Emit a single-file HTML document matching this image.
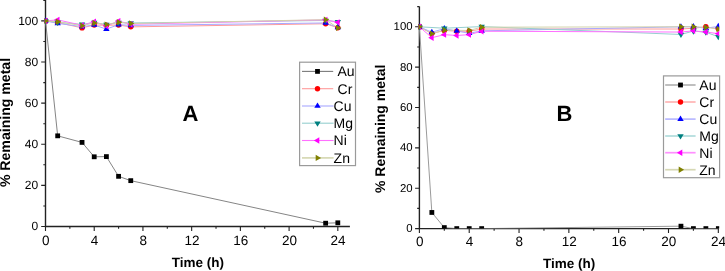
<!DOCTYPE html>
<html><head><meta charset="utf-8"><style>
html,body{margin:0;padding:0;background:#fff;overflow:hidden}
svg{display:block;will-change:transform}
text{font-family:"Liberation Sans",sans-serif;fill:#000;text-rendering:geometricPrecision}
</style></head><body>
<svg width="725" height="271" viewBox="0 0 725 271">
<rect width="725" height="271" fill="#fff"/>
<path d="M45.5 0V226.5H349.9" fill="none" stroke="#222222" stroke-width="1.4"/>
<path d="M45.5 226.5h-4.3M45.5 205.94h-2.2M45.5 185.38h-4.3M45.5 164.82h-2.2M45.5 144.26h-4.3M45.5 123.7h-2.2M45.5 103.14h-4.3M45.5 82.58h-2.2M45.5 62.02h-4.3M45.5 41.46h-2.2M45.5 20.9h-4.3M45.5 0.34h-2.2M45.5 226.5v4.5M69.86 226.5v2.2M94.22 226.5v4.5M118.58 226.5v2.2M142.94 226.5v4.5M167.3 226.5v2.2M191.66 226.5v4.5M216.02 226.5v2.2M240.38 226.5v4.5M264.74 226.5v2.2M289.1 226.5v4.5M313.46 226.5v2.2M337.82 226.5v4.5" stroke="#222222" stroke-width="1.1" fill="none"/>
<clipPath id="ca"><rect x="44.6" y="0" width="315.4" height="226.5"/></clipPath>
<g clip-path="url(#ca)">
<polyline fill="none" stroke="#858585" stroke-width="1" points="45.5,20.9 57.68,135.83 82.04,142.41 94.22,156.8 106.4,156.6 118.58,176.33 130.76,180.65 325.64,223.21 337.82,222.8"/>
<polyline fill="none" stroke="#ff9a9a" stroke-width="1" points="45.5,20.9 57.68,22.54 82.04,27.89 94.22,25.01 106.4,25.22 118.58,25.01 130.76,26.86 325.64,23.78 337.82,27.68"/>
<polyline fill="none" stroke="#a8a8ff" stroke-width="1" points="45.5,20.9 57.68,23.37 82.04,26.66 94.22,25.01 106.4,29.12 118.58,24.6 130.76,25.42 325.64,22.96 337.82,27.48"/>
<polyline fill="none" stroke="#96cfcf" stroke-width="1" points="45.5,20.9 57.68,22.34 82.04,24.4 94.22,22.54 106.4,24.6 118.58,22.54 130.76,22.96 325.64,20.49 337.82,21.72"/>
<polyline fill="none" stroke="#ff70ff" stroke-width="1" points="45.5,20.9 57.68,19.87 82.04,25.22 94.22,21.72 106.4,26.04 118.58,21.11 130.76,24.19 325.64,19.87 337.82,22.34"/>
<polyline fill="none" stroke="#d2d2aa" stroke-width="1" points="45.5,20.9 57.68,21.72 82.04,25.63 94.22,22.96 106.4,24.6 118.58,22.13 130.76,23.57 325.64,19.67 337.82,27.89"/>
<rect x="43.1" y="18.5" width="4.8" height="4.8" fill="#000000"/>
<rect x="55.28" y="133.43" width="4.8" height="4.8" fill="#000000"/>
<rect x="79.64" y="140.01" width="4.8" height="4.8" fill="#000000"/>
<rect x="91.82" y="154.4" width="4.8" height="4.8" fill="#000000"/>
<rect x="104" y="154.2" width="4.8" height="4.8" fill="#000000"/>
<rect x="116.18" y="173.93" width="4.8" height="4.8" fill="#000000"/>
<rect x="128.36" y="178.25" width="4.8" height="4.8" fill="#000000"/>
<rect x="323.24" y="220.81" width="4.8" height="4.8" fill="#000000"/>
<rect x="335.42" y="220.4" width="4.8" height="4.8" fill="#000000"/>
<circle cx="45.5" cy="20.9" r="2.7" fill="#ff0000"/>
<circle cx="57.68" cy="22.54" r="2.7" fill="#ff0000"/>
<circle cx="82.04" cy="27.89" r="2.7" fill="#ff0000"/>
<circle cx="94.22" cy="25.01" r="2.7" fill="#ff0000"/>
<circle cx="106.4" cy="25.22" r="2.7" fill="#ff0000"/>
<circle cx="118.58" cy="25.01" r="2.7" fill="#ff0000"/>
<circle cx="130.76" cy="26.86" r="2.7" fill="#ff0000"/>
<circle cx="325.64" cy="23.78" r="2.7" fill="#ff0000"/>
<circle cx="337.82" cy="27.68" r="2.7" fill="#ff0000"/>
<polygon points="42.3,22.7 48.7,22.7 45.5,17.3" fill="#0000ff"/>
<polygon points="54.48,25.17 60.88,25.17 57.68,19.77" fill="#0000ff"/>
<polygon points="78.84,28.46 85.24,28.46 82.04,23.06" fill="#0000ff"/>
<polygon points="91.02,26.81 97.42,26.81 94.22,21.41" fill="#0000ff"/>
<polygon points="103.2,30.92 109.6,30.92 106.4,25.52" fill="#0000ff"/>
<polygon points="115.38,26.4 121.78,26.4 118.58,21" fill="#0000ff"/>
<polygon points="127.56,27.22 133.96,27.22 130.76,21.82" fill="#0000ff"/>
<polygon points="322.44,24.76 328.84,24.76 325.64,19.36" fill="#0000ff"/>
<polygon points="334.62,29.28 341.02,29.28 337.82,23.88" fill="#0000ff"/>
<polygon points="42.3,19.1 48.7,19.1 45.5,24.5" fill="#008080"/>
<polygon points="54.48,20.54 60.88,20.54 57.68,25.94" fill="#008080"/>
<polygon points="78.84,22.6 85.24,22.6 82.04,28" fill="#008080"/>
<polygon points="91.02,20.74 97.42,20.74 94.22,26.14" fill="#008080"/>
<polygon points="103.2,22.8 109.6,22.8 106.4,28.2" fill="#008080"/>
<polygon points="115.38,20.74 121.78,20.74 118.58,26.14" fill="#008080"/>
<polygon points="127.56,21.16 133.96,21.16 130.76,26.56" fill="#008080"/>
<polygon points="322.44,18.69 328.84,18.69 325.64,24.09" fill="#008080"/>
<polygon points="334.62,19.92 341.02,19.92 337.82,25.32" fill="#008080"/>
<polygon points="47.3,17.7 47.3,24.1 41.9,20.9" fill="#ff00ff"/>
<polygon points="59.48,16.67 59.48,23.07 54.08,19.87" fill="#ff00ff"/>
<polygon points="83.84,22.02 83.84,28.42 78.44,25.22" fill="#ff00ff"/>
<polygon points="96.02,18.52 96.02,24.92 90.62,21.72" fill="#ff00ff"/>
<polygon points="108.2,22.84 108.2,29.24 102.8,26.04" fill="#ff00ff"/>
<polygon points="120.38,17.91 120.38,24.31 114.98,21.11" fill="#ff00ff"/>
<polygon points="132.56,20.99 132.56,27.39 127.16,24.19" fill="#ff00ff"/>
<polygon points="327.44,16.67 327.44,23.07 322.04,19.87" fill="#ff00ff"/>
<polygon points="339.62,19.14 339.62,25.54 334.22,22.34" fill="#ff00ff"/>
<polygon points="43.7,17.7 43.7,24.1 49.1,20.9" fill="#808000"/>
<polygon points="55.88,18.52 55.88,24.92 61.28,21.72" fill="#808000"/>
<polygon points="80.24,22.43 80.24,28.83 85.64,25.63" fill="#808000"/>
<polygon points="92.42,19.76 92.42,26.16 97.82,22.96" fill="#808000"/>
<polygon points="104.6,21.4 104.6,27.8 110,24.6" fill="#808000"/>
<polygon points="116.78,18.93 116.78,25.33 122.18,22.13" fill="#808000"/>
<polygon points="128.96,20.37 128.96,26.77 134.36,23.57" fill="#808000"/>
<polygon points="323.84,16.47 323.84,22.87 329.24,19.67" fill="#808000"/>
<polygon points="336.02,24.69 336.02,31.09 341.42,27.89" fill="#808000"/>
</g>
<text x="38.2" y="230.3" font-size="12" text-anchor="end">0</text>
<text x="38.2" y="189.18" font-size="12" text-anchor="end">20</text>
<text x="38.2" y="148.06" font-size="12" text-anchor="end">40</text>
<text x="38.2" y="106.94" font-size="12" text-anchor="end">60</text>
<text x="38.2" y="65.82" font-size="12" text-anchor="end">80</text>
<text x="38.2" y="24.7" font-size="12" text-anchor="end">100</text>
<text x="45.8" y="244.6" font-size="13.5" text-anchor="middle">0</text>
<text x="94.52" y="244.6" font-size="13.5" text-anchor="middle">4</text>
<text x="143.24" y="244.6" font-size="13.5" text-anchor="middle">8</text>
<text x="191.96" y="244.6" font-size="13.5" text-anchor="middle">12</text>
<text x="240.68" y="244.6" font-size="13.5" text-anchor="middle">16</text>
<text x="289.4" y="244.6" font-size="13.5" text-anchor="middle">20</text>
<text x="338.12" y="244.6" font-size="13.5" text-anchor="middle">24</text>
<text x="197.8" y="267" font-size="13.5" font-weight="bold" text-anchor="middle">Time (h)</text>
<text transform="translate(10.4,122.5) rotate(-90)" font-size="14.1" font-weight="bold" text-anchor="middle">% Remaining metal</text>
<text x="190.4" y="120.9" font-size="22" font-weight="bold" text-anchor="middle">A</text>
<rect x="299.6" y="62.2" width="55.9" height="103.4" fill="#fff" stroke="#9a9a9a" stroke-width="1.2"/>
<path d="M302 71.4H333.2" stroke="#7a7a7a" stroke-width="1.1"/>
<rect x="315.1" y="69" width="4.8" height="4.8" fill="#000000"/>
<text x="337.4" y="76.3" font-size="14">Au</text>
<path d="M302 88.7H333.2" stroke="#ff9a9a" stroke-width="1.1"/>
<circle cx="317.5" cy="88.7" r="2.7" fill="#ff0000"/>
<text x="337.6" y="93.6" font-size="14">Cr</text>
<path d="M302 106H333.6" stroke="#a8a8ff" stroke-width="1.1"/>
<polygon points="314.3,107.8 320.7,107.8 317.5,102.4" fill="#0000ff"/>
<text x="333.6" y="110.9" font-size="14">Cu</text>
<path d="M302 123.2H333.6" stroke="#96cfcf" stroke-width="1.1"/>
<polygon points="314.3,121.4 320.7,121.4 317.5,126.8" fill="#008080"/>
<text x="333.6" y="128.1" font-size="14">Mg</text>
<path d="M302 140.5H333.6" stroke="#ff70ff" stroke-width="1.1"/>
<polygon points="319.3,137.3 319.3,143.7 313.9,140.5" fill="#ff00ff"/>
<text x="333.6" y="145.4" font-size="14">Ni</text>
<path d="M302 157.9H333.6" stroke="#d6d8b4" stroke-width="1.7"/>
<polygon points="315.7,154.7 315.7,161.1 321.1,157.9" fill="#808000"/>
<text x="333.6" y="162.8" font-size="14">Zn</text>
<path d="M419.4 6.4V228.6H718.6" fill="none" stroke="#222222" stroke-width="1.4"/>
<path d="M419.4 228.6h-4.3M419.4 208.42h-2.2M419.4 188.24h-4.3M419.4 168.06h-2.2M419.4 147.88h-4.3M419.4 127.7h-2.2M419.4 107.52h-4.3M419.4 87.34h-2.2M419.4 67.16h-4.3M419.4 46.98h-2.2M419.4 26.8h-4.3M419.4 6.62h-2.2M419.4 228.6v4.5M444.31 228.6v2.2M469.22 228.6v4.5M494.13 228.6v2.2M519.04 228.6v4.5M543.95 228.6v2.2M568.86 228.6v4.5M593.77 228.6v2.2M618.68 228.6v4.5M643.59 228.6v2.2M668.5 228.6v4.5M693.41 228.6v2.2M718.32 228.6v4.5" stroke="#222222" stroke-width="1.1" fill="none"/>
<clipPath id="cb"><rect x="418.5" y="0" width="300.7" height="228.6"/></clipPath>
<g clip-path="url(#cb)">
<polyline fill="none" stroke="#9a9a9a" stroke-width="1" points="419.4,26.8 431.85,212.46 444.31,227.59 456.76,228.6 469.22,228.6 481.67,228.6 680.95,226.18 693.41,228.6 705.87,228.6 718.32,228.6"/>
<polyline fill="none" stroke="#ff9a9a" stroke-width="1" points="419.4,26.8 431.85,33.46 444.31,30.43 456.76,31.24 469.22,31.24 481.67,29.02 680.95,29.02 693.41,28.21 705.87,26.8 718.32,28.82"/>
<polyline fill="none" stroke="#a8a8ff" stroke-width="1" points="419.4,26.8 431.85,32.25 444.31,28.62 456.76,31.04 469.22,33.26 481.67,30.84 680.95,26.8 693.41,26.6 705.87,28.21 718.32,26.4"/>
<polyline fill="none" stroke="#96cfcf" stroke-width="1" points="419.4,26.8 444.31,28.21 481.67,26.6 680.95,34.47 693.41,31.04 705.87,32.25 718.32,36.69"/>
<polyline fill="none" stroke="#ff70ff" stroke-width="1" points="419.4,26.8 431.85,37.7 444.31,34.67 456.76,35.48 469.22,34.67 481.67,31.24 680.95,32.05 693.41,30.84 705.87,32.05 718.32,33.66"/>
<polyline fill="none" stroke="#d2d2aa" stroke-width="1" points="419.4,26.8 431.85,33.66 444.31,30.23 469.22,30.43 481.67,27.2 680.95,26.8 693.41,26.8 705.87,27.41 718.32,29.02"/>
<rect x="417" y="24.4" width="4.8" height="4.8" fill="#000000"/>
<rect x="429.45" y="210.06" width="4.8" height="4.8" fill="#000000"/>
<rect x="441.91" y="225.19" width="4.8" height="4.8" fill="#000000"/>
<rect x="454.37" y="226.2" width="4.8" height="4.8" fill="#000000"/>
<rect x="466.82" y="226.2" width="4.8" height="4.8" fill="#000000"/>
<rect x="479.27" y="226.2" width="4.8" height="4.8" fill="#000000"/>
<rect x="678.55" y="223.78" width="4.8" height="4.8" fill="#000000"/>
<rect x="691.01" y="226.2" width="4.8" height="4.8" fill="#000000"/>
<rect x="703.47" y="226.2" width="4.8" height="4.8" fill="#000000"/>
<rect x="715.92" y="226.2" width="4.8" height="4.8" fill="#000000"/>
<circle cx="419.4" cy="26.8" r="2.7" fill="#ff0000"/>
<circle cx="431.85" cy="33.46" r="2.7" fill="#ff0000"/>
<circle cx="444.31" cy="30.43" r="2.7" fill="#ff0000"/>
<circle cx="456.76" cy="31.24" r="2.7" fill="#ff0000"/>
<circle cx="469.22" cy="31.24" r="2.7" fill="#ff0000"/>
<circle cx="481.67" cy="29.02" r="2.7" fill="#ff0000"/>
<circle cx="680.95" cy="29.02" r="2.7" fill="#ff0000"/>
<circle cx="693.41" cy="28.21" r="2.7" fill="#ff0000"/>
<circle cx="705.87" cy="26.8" r="2.7" fill="#ff0000"/>
<circle cx="718.32" cy="28.82" r="2.7" fill="#ff0000"/>
<polygon points="416.2,28.6 422.6,28.6 419.4,23.2" fill="#0000ff"/>
<polygon points="428.65,34.05 435.05,34.05 431.85,28.65" fill="#0000ff"/>
<polygon points="441.11,30.42 447.51,30.42 444.31,25.02" fill="#0000ff"/>
<polygon points="453.56,32.84 459.96,32.84 456.76,27.44" fill="#0000ff"/>
<polygon points="466.02,35.06 472.42,35.06 469.22,29.66" fill="#0000ff"/>
<polygon points="478.47,32.64 484.87,32.64 481.67,27.24" fill="#0000ff"/>
<polygon points="677.75,28.6 684.15,28.6 680.95,23.2" fill="#0000ff"/>
<polygon points="690.21,28.4 696.61,28.4 693.41,23" fill="#0000ff"/>
<polygon points="702.66,30.01 709.07,30.01 705.87,24.61" fill="#0000ff"/>
<polygon points="715.12,28.2 721.52,28.2 718.32,22.8" fill="#0000ff"/>
<polygon points="416.2,25 422.6,25 419.4,30.4" fill="#008080"/>
<polygon points="441.11,26.41 447.51,26.41 444.31,31.81" fill="#008080"/>
<polygon points="478.47,24.8 484.87,24.8 481.67,30.2" fill="#008080"/>
<polygon points="677.75,32.67 684.15,32.67 680.95,38.07" fill="#008080"/>
<polygon points="690.21,29.24 696.61,29.24 693.41,34.64" fill="#008080"/>
<polygon points="702.66,30.45 709.07,30.45 705.87,35.85" fill="#008080"/>
<polygon points="715.12,34.89 721.52,34.89 718.32,40.29" fill="#008080"/>
<polygon points="421.2,23.6 421.2,30 415.8,26.8" fill="#ff00ff"/>
<polygon points="433.65,34.5 433.65,40.9 428.25,37.7" fill="#ff00ff"/>
<polygon points="446.11,31.47 446.11,37.87 440.71,34.67" fill="#ff00ff"/>
<polygon points="458.56,32.28 458.56,38.68 453.16,35.48" fill="#ff00ff"/>
<polygon points="471.02,31.47 471.02,37.87 465.62,34.67" fill="#ff00ff"/>
<polygon points="483.47,28.04 483.47,34.44 478.07,31.24" fill="#ff00ff"/>
<polygon points="682.75,28.85 682.75,35.25 677.35,32.05" fill="#ff00ff"/>
<polygon points="695.21,27.64 695.21,34.04 689.81,30.84" fill="#ff00ff"/>
<polygon points="707.66,28.85 707.66,35.25 702.26,32.05" fill="#ff00ff"/>
<polygon points="720.12,30.46 720.12,36.86 714.72,33.66" fill="#ff00ff"/>
<polygon points="417.6,23.6 417.6,30 423,26.8" fill="#808000"/>
<polygon points="430.05,30.46 430.05,36.86 435.45,33.66" fill="#808000"/>
<polygon points="442.51,27.03 442.51,33.43 447.91,30.23" fill="#808000"/>
<polygon points="467.42,27.23 467.42,33.63 472.82,30.43" fill="#808000"/>
<polygon points="479.87,24 479.87,30.4 485.27,27.2" fill="#808000"/>
<polygon points="679.15,23.6 679.15,30 684.55,26.8" fill="#808000"/>
<polygon points="691.61,23.6 691.61,30 697.01,26.8" fill="#808000"/>
<polygon points="704.07,24.21 704.07,30.61 709.47,27.41" fill="#808000"/>
<polygon points="716.52,25.82 716.52,32.22 721.92,29.02" fill="#808000"/>
</g>
<text x="412.6" y="232.2" font-size="11.4" text-anchor="end">0</text>
<text x="412.6" y="191.84" font-size="11.4" text-anchor="end">20</text>
<text x="412.6" y="151.48" font-size="11.4" text-anchor="end">40</text>
<text x="412.6" y="111.12" font-size="11.4" text-anchor="end">60</text>
<text x="412.6" y="70.76" font-size="11.4" text-anchor="end">80</text>
<text x="412.6" y="30.4" font-size="11.4" text-anchor="end">100</text>
<text x="419.7" y="246.2" font-size="13.5" text-anchor="middle">0</text>
<text x="469.52" y="246.2" font-size="13.5" text-anchor="middle">4</text>
<text x="519.34" y="246.2" font-size="13.5" text-anchor="middle">8</text>
<text x="569.16" y="246.2" font-size="13.5" text-anchor="middle">12</text>
<text x="618.98" y="246.2" font-size="13.5" text-anchor="middle">16</text>
<text x="668.8" y="246.2" font-size="13.5" text-anchor="middle">20</text>
<text x="718.62" y="246.2" font-size="13.5" text-anchor="middle">24</text>
<text x="569.2" y="268" font-size="13.5" font-weight="bold" text-anchor="middle">Time (h)</text>
<text transform="translate(385.4,128.8) rotate(-90)" font-size="14" font-weight="bold" text-anchor="middle">% Remaining metal</text>
<text x="564.5" y="120.9" font-size="22" font-weight="bold" text-anchor="middle">B</text>
<rect x="663.5" y="75.9" width="56.1" height="101.8" fill="#fff" stroke="#9a9a9a" stroke-width="1.2"/>
<path d="M665.2 85H695.6" stroke="#b4b4b4" stroke-width="1.7"/>
<rect x="678.1" y="82.6" width="4.8" height="4.8" fill="#000000"/>
<text x="699.3" y="90.1" font-size="14">Au</text>
<path d="M665.2 102H695.6" stroke="#ffb4b4" stroke-width="1.7"/>
<circle cx="680.5" cy="102" r="2.7" fill="#ff0000"/>
<text x="699.3" y="107.1" font-size="14">Cr</text>
<path d="M665.2 119.1H695.6" stroke="#b8b8ff" stroke-width="1.7"/>
<polygon points="677.3,120.9 683.7,120.9 680.5,115.5" fill="#0000ff"/>
<text x="699.3" y="124.2" font-size="14">Cu</text>
<path d="M665.2 136H695.6" stroke="#b0dcdc" stroke-width="1.7"/>
<polygon points="677.3,134.2 683.7,134.2 680.5,139.6" fill="#008080"/>
<text x="699.3" y="141.1" font-size="14">Mg</text>
<path d="M665.2 152.7H695.6" stroke="#ff90ff" stroke-width="1.7"/>
<polygon points="682.3,149.5 682.3,155.9 676.9,152.7" fill="#ff00ff"/>
<text x="699.3" y="157.8" font-size="14">Ni</text>
<path d="M665.2 169.7H695.6" stroke="#d6d8b4" stroke-width="1.7"/>
<polygon points="678.7,166.5 678.7,172.9 684.1,169.7" fill="#808000"/>
<text x="699.3" y="174.8" font-size="14">Zn</text>
</svg>
</body></html>
